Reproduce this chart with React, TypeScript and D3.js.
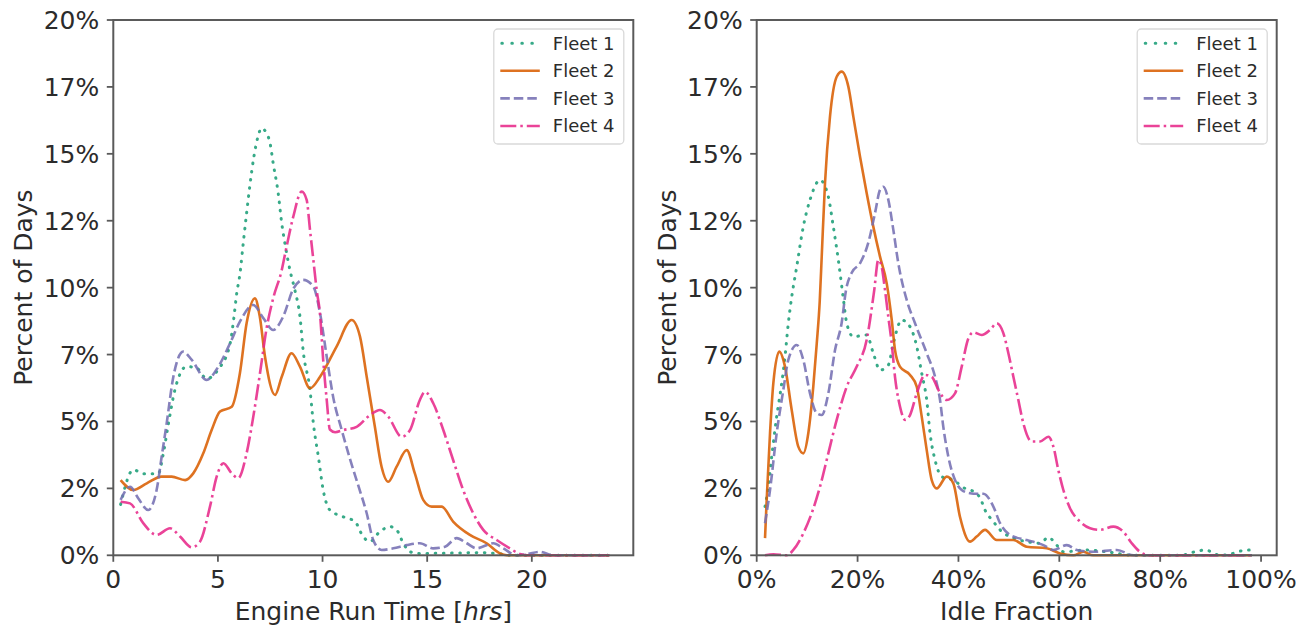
import React from "react";
import * as d3 from "d3";

type Pt = [number, number];

// ---------- Data (x value, percent of days) ----------
const fleetNames = ["Fleet 1", "Fleet 2", "Fleet 3", "Fleet 4"];
const fleetColors = ["#1b9e77", "#d95f02", "#7570b3", "#e7298a"];
const fleetDashes = ["0.6 7.6", "none", "9.5 4", "16 4 2.5 4"];
const fleetCaps = ["round", "butt", "butt", "butt"];

const yTicks = [0, 2.5, 5, 7.5, 10, 12.5, 15, 17.5, 20];
const yTickLabels = ["0%", "2%", "5%", "7%", "10%", "12%", "15%", "17%", "20%"];

const engineTicks = [0, 5, 10, 15, 20];
const idleTicks = [0, 20, 40, 60, 80, 100];

const engineFleet1: Pt[] = [
  [0.35, 1.9], [0.96, 3.2], [1.43, 3.05], [2.15, 3.05], [2.39, 3.8], [2.63, 4.9], [2.95, 6.2],
  [3.5, 7.05], [3.98, 7.0], [4.46, 6.6], [5.02, 6.95], [5.58, 7.9], [5.75, 8.8], [5.9, 9.8],
  [6.05, 10.5], [6.21, 11.66], [6.37, 12.78], [6.53, 13.84], [6.72, 14.9], [6.9, 15.6],
  [7.09, 15.96], [7.3, 15.8], [7.49, 15.4], [7.64, 14.65], [7.88, 13.53], [8.05, 12.4],
  [8.2, 11.66], [8.44, 10.66], [8.68, 9.9], [8.92, 8.92], [9.08, 7.6], [9.4, 6.18],
  [9.56, 4.93], [9.8, 3.68], [10.03, 2.44], [10.35, 1.69], [10.99, 1.44], [11.55, 1.26],
  [11.94, 0.7], [12.27, 0.51], [12.66, 0.82], [13.22, 1.07], [13.54, 0.95], [13.86, 0.45],
  [14.18, 0.13], [14.65, 0.07], [16, 0.08], [17.5, 0.1], [18.5, 0.05], [19, 0], [23.7, 0],
];
const engineFleet2: Pt[] = [
  [0.35, 2.81], [0.96, 2.44], [1.6, 2.69], [2.31, 2.94], [2.79, 2.94], [3.43, 2.81], [3.82, 3.06],
  [4.3, 3.81], [4.7, 4.68], [5.1, 5.37], [5.66, 5.55], [6.05, 6.8], [6.37, 8.67], [6.77, 9.6],
  [7.0, 8.92], [7.25, 7.42], [7.73, 5.99], [8.05, 6.67], [8.52, 7.55], [8.92, 7.05], [9.4, 6.24],
  [9.88, 6.67], [10.67, 7.8], [11.39, 8.79], [11.79, 8.17], [12.11, 6.67], [12.5, 4.8],
  [12.82, 3.31], [13.14, 2.75], [13.54, 3.31], [14.02, 3.93], [14.41, 3.06], [14.81, 2.07],
  [15.21, 1.82], [15.69, 1.82], [16.24, 1.26], [17.04, 0.76], [17.84, 0.45], [18.48, 0.07],
  [18.8, 0], [23.7, 0],
];
const engineFleet3: Pt[] = [
  [0.35, 2.07], [0.8, 2.56], [1.19, 2.13], [1.67, 1.69], [2.07, 2.44], [2.31, 3.68], [2.55, 4.93],
  [2.87, 6.67], [3.34, 7.61], [3.75, 7.3], [4.46, 6.55], [5.02, 7.05], [5.58, 7.92], [6.05, 8.73],
  [6.69, 9.35], [7.17, 8.86], [7.64, 8.42], [8.12, 8.92], [8.6, 9.95], [9.08, 10.29],
  [9.56, 10.04], [9.88, 9.04], [10.2, 7.42], [10.51, 5.9], [10.91, 4.7], [11.31, 3.6],
  [11.71, 2.6], [12.11, 1.57], [12.42, 0.57], [12.82, 0.2], [13.38, 0.26], [14.02, 0.38],
  [14.65, 0.45], [15.29, 0.26], [15.85, 0.32], [16.41, 0.64], [16.89, 0.45], [17.36, 0.26],
  [18.16, 0.45], [18.63, 0.26], [19.27, 0], [19.8, 0.05], [20.39, 0.13], [21, 0], [23.7, 0],
];
const engineFleet4: Pt[] = [
  [0.35, 2.0], [0.8, 1.94], [1.43, 1.2], [2.07, 0.76], [2.71, 1.01], [3.19, 0.7], [3.75, 0.3],
  [4.14, 0.51], [4.62, 1.82], [4.94, 2.94], [5.26, 3.44], [5.66, 3.06], [5.97, 2.88], [6.37, 3.81],
  [6.69, 5.18], [7.01, 6.8], [7.33, 8.5], [7.64, 9.6], [8.05, 10.66], [8.28, 11.53], [8.6, 12.65],
  [9.0, 13.59], [9.24, 13.28], [9.4, 12.16], [9.56, 11.04], [9.72, 9.91], [9.88, 9.0],
  [10.03, 7.3], [10.2, 5.8], [10.35, 4.7], [10.6, 4.6], [10.99, 4.68], [11.63, 4.8],
  [12.27, 5.24], [12.74, 5.43], [13.14, 5.18], [13.78, 4.43], [14.18, 4.68], [14.65, 5.8],
  [14.89, 6.11], [15.29, 5.68], [15.77, 4.68], [16.24, 3.56], [16.72, 2.44], [17.2, 1.57],
  [17.68, 0.95], [18.32, 0.57], [18.95, 0.26], [19.43, 0.05], [19.8, 0], [23.7, 0],
];

const idleFleet1: Pt[] = [
  [1.65, 1.82], [2.3, 2.56], [2.97, 3.68], [3.96, 5.18], [4.96, 6.43], [5.61, 7.42], [6.27, 8.67],
  [6.9, 9.6], [7.93, 10.78], [9.24, 12.28], [10.57, 13.28], [12.55, 14.02], [14.2, 13.4],
  [15.19, 12.28], [16.18, 11.04], [17.17, 9.6], [17.85, 8.67], [19.16, 8.17], [21.81, 8.23],
  [23.12, 7.55], [24.45, 6.92], [26.1, 7.11], [27.09, 7.92], [28.75, 8.79], [30.4, 8.54],
  [31.73, 7.8], [32.72, 6.8], [33.71, 5.8], [34.37, 4.56], [35.36, 3.56], [36.68, 2.94],
  [38.99, 2.81], [41.31, 2.5], [42.3, 2.45], [44.28, 2.15], [45.27, 1.69], [46.92, 1.26],
  [48.25, 0.95], [50.89, 0.64], [53.54, 0.51], [56.18, 0.45], [57.83, 0.67], [59.49, 0.38],
  [60.8, 0.13], [65.44, 0.2], [69.4, 0.13], [74.7, 0], [84, 0], [86.9, 0.13], [88.9, 0.2],
  [91.9, 0], [94, 0.05], [96.2, 0.17], [98.2, 0.2],
];
const idleFleet2: Pt[] = [
  [1.65, 0.64], [1.98, 2.07], [2.64, 4.56], [3.3, 6.43], [4.48, 7.61], [5.61, 7.05], [6.94, 5.43],
  [8.25, 4.06], [9.24, 3.81], [10.23, 4.56], [11.22, 6.3], [11.9, 7.9], [12.5, 9.5], [12.9, 11.2],
  [13.54, 13.9], [14.53, 16.39], [15.86, 17.88], [16.86, 18.07], [18.17, 17.51], [19.16, 16.39],
  [20.48, 14.9], [21.81, 13.53], [23.12, 12.28], [24.45, 11.16], [25.78, 10.16], [26.77, 8.8],
  [27.42, 7.67], [28.4, 7.05], [30.4, 6.74], [31.73, 6.3], [32.72, 5.18], [33.71, 3.93],
  [34.7, 2.81], [35.69, 2.5], [37.68, 2.94], [38.99, 2.69], [40.3, 1.44], [42.3, 0.51],
  [43.62, 0.7], [45.27, 0.95], [47.59, 0.57], [50.89, 0.57], [53.54, 0.32], [57.5, 0.26],
  [60.14, 0.07], [62.8, 0], [64.76, 0.13], [66.7, 0], [98.2, 0],
];
const idleFleet3: Pt[] = [
  [1.65, 1.2], [2.64, 2.44], [3.96, 4.56], [5.28, 6.18], [6.27, 7.3], [7.93, 7.86], [9.24, 7.3],
  [10.57, 6.05], [11.9, 5.31], [12.89, 5.24], [14.2, 6.05], [15.53, 7.67], [16.86, 8.7],
  [17.7, 9.9], [18.84, 10.56], [20.48, 10.91], [22.1, 11.66], [23.45, 12.78], [24.45, 13.65],
  [25.1, 13.77], [26.1, 13.28], [27.09, 12.16], [28.08, 10.91], [29.74, 9.54], [31.39, 8.67],
  [33.71, 7.55], [35.36, 6.67], [36.35, 5.8], [37.0, 4.8], [38, 3.68], [39.32, 2.81],
  [40.65, 2.44], [42.3, 2.32], [43.62, 2.3], [44.94, 2.3], [46.92, 1.82], [48.25, 1.2],
  [50.23, 0.76], [53.54, 0.57], [56.84, 0.38], [58.82, 0.2], [61.47, 0.38], [63.45, 0.2],
  [66.75, 0.13], [71.4, 0.2], [74.7, 0], [98.2, 0],
];
const idleFleet4: Pt[] = [
  [1.65, 0], [3.3, 0.04], [5.95, 0], [7.26, 0.2], [9.24, 0.82], [10.9, 1.57], [12.55, 2.56],
  [14.2, 3.81], [15.86, 5.06], [17.85, 6.3], [19.83, 7.05], [21.81, 8.05], [23.3, 9.9],
  [24.11, 11.04], [24.78, 10.78], [25.44, 9.91], [26.1, 8.9], [26.77, 7.92], [27.42, 6.67],
  [28.42, 5.55], [29.41, 5.06], [30.4, 5.24], [31.73, 6.05], [33.38, 6.74], [34.7, 6.67],
  [36.02, 6.18], [37.68, 5.8], [39.32, 6.05], [40.65, 7.05], [41.96, 8.1], [42.96, 8.33],
  [44.61, 8.23], [46.26, 8.42], [47.59, 8.67], [48.9, 8.3], [49.9, 7.55], [50.89, 6.67],
  [51.88, 5.8], [52.87, 4.93], [54.53, 4.25], [56.18, 4.25], [57.83, 4.43], [58.82, 4.06],
  [59.8, 3.19], [60.8, 2.44], [62.12, 1.76], [64.1, 1.26], [66.1, 1.01], [68.07, 0.95],
  [70.7, 1.07], [72.7, 0.88], [74.36, 0.45], [76, 0.13], [78, 0], [98.2, 0],
];

const engineSeries = [engineFleet1, engineFleet2, engineFleet3, engineFleet4];
const idleSeries = [idleFleet1, idleFleet2, idleFleet3, idleFleet4];

// ---------- Layout ----------
const W = 1308;
const H = 629;
const TOP = 20;
const BOTTOM = 555.3;
const FONT = "DejaVu Sans";
const TEXT = "#2b2b2b";
const SPINE = "#5a5a5a";

type PanelProps = {
  left: number;
  right: number;
  xDomain: [number, number];
  xTicks: number[];
  xFmt: (v: number) => string;
  xLabel: React.ReactNode;
  series: Pt[][];
};

function Panel({ left, right, xDomain, xTicks, xFmt, xLabel, series }: PanelProps) {
  const x = d3.scaleLinear().domain(xDomain).range([left, right]);
  const y = d3.scaleLinear().domain([0, 20]).range([BOTTOM, TOP]);
  const line = d3
    .line<Pt>()
    .x((d) => x(d[0]))
    .y((d) => y(d[1]))
    .curve(d3.curveMonotoneX);
  const midX = (left + right) / 2;
  const midY = (TOP + BOTTOM) / 2;

  const lgRight = right - 9.5;
  const lgLeft = lgRight - 130;
  const rowY = [43.3, 70.8, 98.4, 126];

  return (
    <g>
      {series.map((pts, i) => (
        <path
          key={i}
          d={line(pts) || ""}
          fill="none"
          stroke={fleetColors[i]}
          strokeOpacity={0.88}
          strokeWidth={i === 0 ? 3 : 2.6}
          strokeDasharray={fleetDashes[i]}
          strokeLinecap={fleetCaps[i] as any}
          strokeLinejoin="round"
        />
      ))}
      <rect
        x={left}
        y={TOP}
        width={right - left}
        height={BOTTOM - TOP}
        fill="none"
        stroke={SPINE}
        strokeWidth={2}
      />
      {yTicks.map((t, i) => (
        <g key={"y" + i}>
          <line x1={left - 6.5} x2={left} y1={y(t)} y2={y(t)} stroke={SPINE} strokeWidth={1.8} />
          <text
            x={left - 14}
            y={y(t)}
            dy="0.36em"
            textAnchor="end"
            fontFamily={FONT}
            fontSize={25}
            fill={TEXT}
          >
            {yTickLabels[i]}
          </text>
        </g>
      ))}
      {xTicks.map((t, i) => (
        <g key={"x" + i}>
          <line x1={x(t)} x2={x(t)} y1={BOTTOM} y2={BOTTOM + 6.5} stroke={SPINE} strokeWidth={1.8} />
          <text
            x={x(t)}
            y={BOTTOM + 33}
            textAnchor="middle"
            fontFamily={FONT}
            fontSize={25}
            fill={TEXT}
          >
            {xFmt(t)}
          </text>
        </g>
      ))}
      <text
        transform={`translate(${left - 81},${midY}) rotate(-90)`}
        textAnchor="middle"
        fontFamily={FONT}
        fontSize={25}
        fill={TEXT}
      >
        Percent of Days
      </text>
      <text x={midX} y={620} textAnchor="middle" fontFamily={FONT} fontSize={25} fill={TEXT}>
        {xLabel}
      </text>
      <rect
        x={lgLeft}
        y={29}
        width={130}
        height={115}
        rx={4}
        ry={4}
        fill="#ffffff"
        fillOpacity={0.85}
        stroke="#d9d9d9"
        strokeWidth={1.3}
      />
      {fleetNames.map((name, i) => (
        <g key={name}>
          <line
            x1={lgLeft + (i === 0 ? 8 : 6.5)}
            x2={lgLeft + 46}
            y1={rowY[i]}
            y2={rowY[i]}
            stroke={fleetColors[i]}
            strokeOpacity={0.88}
            strokeWidth={i === 0 ? 3 : 2.6}
            strokeDasharray={i === 0 ? "0.6 9.4" : fleetDashes[i]}
            strokeLinecap={fleetCaps[i] as any}
          />
          <text
            x={lgLeft + 59}
            y={rowY[i]}
            dy="0.36em"
            fontFamily={FONT}
            fontSize={18}
            fill={TEXT}
          >
            {name}
          </text>
        </g>
      ))}
    </g>
  );
}

export default function App() {
  return (
    <svg
      width={W}
      height={H}
      viewBox={`0 0 ${W} ${H}`}
      style={{ position: "absolute", left: 0, top: 0, background: "#ffffff" }}
    >
      <rect x={0} y={0} width={W} height={H} fill="#ffffff" />
      <Panel
        left={113.3}
        right={633.3}
        xDomain={[0, 24.85]}
        xTicks={engineTicks}
        xFmt={(v) => String(v)}
        xLabel={
          <>
            Engine Run Time [<tspan fontStyle="italic">hrs</tspan>]
          </>
        }
        series={engineSeries}
      />
      <Panel
        left={756.7}
        right={1276.7}
        xDomain={[0, 103.1]}
        xTicks={idleTicks}
        xFmt={(v) => `${v}%`}
        xLabel="Idle Fraction"
        series={idleSeries}
      />
    </svg>
  );
}
